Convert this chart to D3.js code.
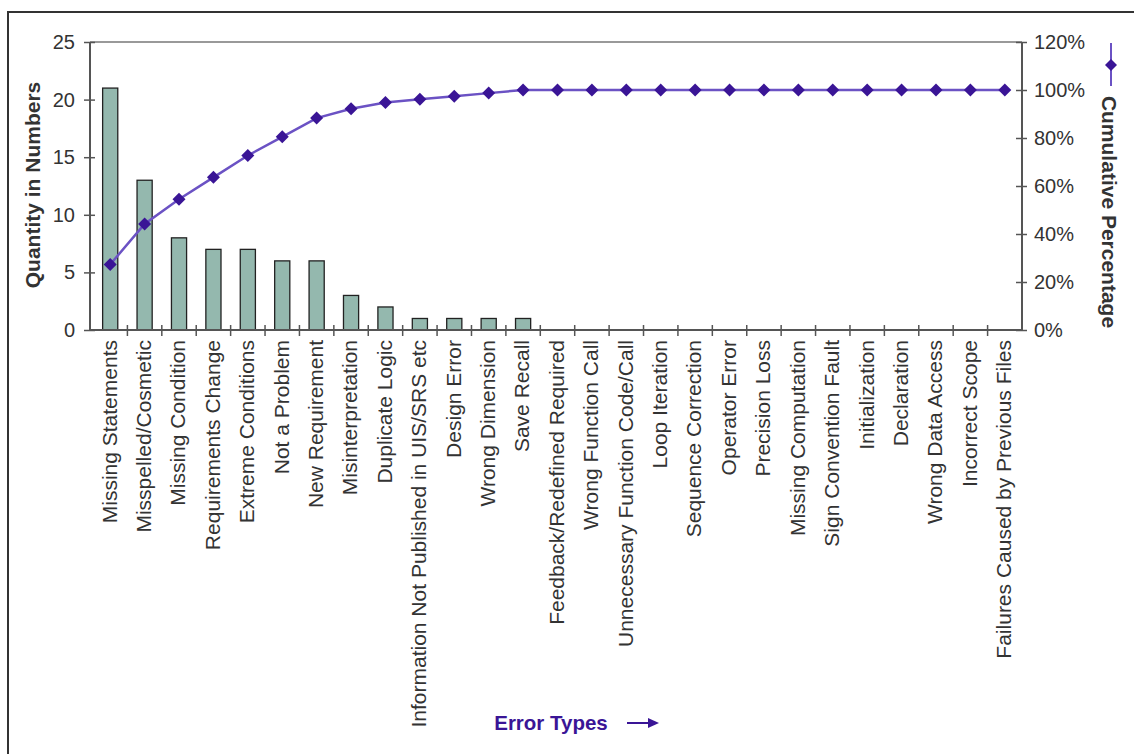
<!DOCTYPE html>
<html>
<head>
<meta charset="utf-8">
<script src="https://cdn.jsdelivr.net/npm/d3@7"></script>
<style>
  html, body { margin: 0; padding: 0; background: #fff; }
  svg { display: block; }
  text { font-family: "Liberation Sans", Arial, Helvetica, sans-serif; }
</style>
</head>
<body>
<svg id="chart" width="1134" height="754"></svg>
<script>
// Error categories in Pareto order
const categories = [
  "Missing Statements", "Misspelled/Cosmetic", "Missing Condition", "Requirements Change",
  "Extreme Conditions", "Not a Problem", "New Requirement", "Misinterpretation",
  "Duplicate Logic", "Information Not Published in UIS/SRS etc", "Design Error",
  "Wrong Dimension", "Save Recall", "Feedback/Redefined Required", "Wrong Function Call",
  "Unnecessary Function Code/Call", "Loop Iteration", "Sequence Correction", "Operator Error",
  "Precision Loss", "Missing Computation", "Sign Convention Fault", "Initialization",
  "Declaration", "Wrong Data Access", "Incorrect Scope", "Failures Caused by Previous Files"
];

// Number of errors found in each category
const quantities = [21, 13, 8, 7, 7, 6, 6, 3, 2, 1, 1, 1, 1, 0, 0, 0, 0, 0, 0, 0, 0, 0, 0, 0, 0, 0, 0];

// Cumulative share of all errors (%)
const cumulativePct = [27.3, 44.2, 54.5, 63.6, 72.7, 80.5, 88.3, 92.2, 94.8, 96.1, 97.4, 98.7, 100,
  100, 100, 100, 100, 100, 100, 100, 100, 100, 100, 100, 100, 100, 100];

const quantityTicks = [0, 5, 10, 15, 20, 25];
const percentTicks = [0, 20, 40, 60, 80, 100, 120];

const svg = d3.select("#chart");

const plot = { left: 90, right: 1022, top: 42, bottom: 330 };

const x = d3.scaleBand()
  .domain(categories)
  .range([93, plot.right])
  .paddingInner(0)
  .paddingOuter(0);

const yLeft = d3.scaleLinear().domain([0, 25]).range([plot.bottom, plot.top]);
const yRight = d3.scaleLinear().domain([0, 120]).range([plot.bottom, plot.top]);

const axisColor = "#555";
const textColor = "#333";
const purple = "#3a1596";
const lineColor = "#6b52c4";

// Outer frame (top and left edges)
svg.append("path")
  .attr("d", "M8,754 L8,12 L1134,12")
  .attr("fill", "none")
  .attr("stroke", "#333")
  .attr("stroke-width", 2);

// Top edge of the plotting area
svg.append("line")
  .attr("x1", plot.left).attr("x2", plot.right)
  .attr("y1", plot.top).attr("y2", plot.top)
  .attr("stroke", "#999").attr("stroke-width", 2);

// Bars
const barW = x.bandwidth() * 0.44;
svg.append("g")
  .selectAll("rect")
  .data(categories.map((c, i) => ({ c, v: quantities[i] })).filter(d => d.v > 0))
  .join("rect")
  .attr("x", d => x(d.c) + x.bandwidth() / 2 - barW / 2)
  .attr("y", d => yLeft(d.v))
  .attr("width", barW)
  .attr("height", d => yLeft(0) - yLeft(d.v))
  .attr("fill", "#94b8ae")
  .attr("stroke", "#222")
  .attr("stroke-width", 1.3);

// Left axis
const gLeft = svg.append("g").attr("transform", `translate(${plot.left},0)`)
  .call(d3.axisLeft(yLeft).tickValues(quantityTicks).tickSize(6).tickPadding(9));
gLeft.selectAll(".tick line").attr("x2", 5).attr("x1", -6);
gLeft.select(".domain").attr("d", `M0,${plot.top}V${plot.bottom}`);

// Right axis
const gRight = svg.append("g").attr("transform", `translate(${plot.right},0)`)
  .call(d3.axisRight(yRight).tickValues(percentTicks).tickFormat(d => d + "%").tickSize(6).tickPadding(6));
gRight.selectAll(".tick line").attr("x1", -6).attr("x2", 5);
gRight.select(".domain").attr("d", `M0,${plot.top}V${plot.bottom}`);

// Category axis with ticks between bands
const gBottom = svg.append("g").attr("transform", `translate(0,${plot.bottom})`);
gBottom.append("line")
  .attr("x1", plot.left).attr("x2", plot.right)
  .attr("stroke", axisColor).attr("stroke-width", 2);
gBottom.selectAll("line.sep")
  .data(categories.slice(1))
  .join("line")
  .attr("class", "sep")
  .attr("x1", d => x(d)).attr("x2", d => x(d))
  .attr("y1", -5).attr("y2", 6)
  .attr("stroke", axisColor).attr("stroke-width", 1.5);
gBottom.selectAll("text.cat")
  .data(categories)
  .join("text")
  .attr("class", "cat")
  .attr("transform", d => `translate(${x(d) + x.bandwidth() / 2 - 1},10) rotate(-90)`)
  .attr("text-anchor", "end")
  .attr("dy", "0.35em")
  .attr("font-size", 21)
  .attr("fill", textColor)
  .text(d => d);

[gLeft, gRight].forEach(g => {
  g.select(".domain").attr("stroke", axisColor).attr("stroke-width", 2);
  g.selectAll(".tick line").attr("stroke", axisColor).attr("stroke-width", 1.5);
  g.selectAll(".tick text")
    .attr("font-size", 20)
    .attr("fill", textColor)
    .attr("font-family", "'Liberation Sans', Arial, sans-serif");
});

// Cumulative percentage line
const line = d3.line()
  .x((d, i) => x(categories[i]) + x.bandwidth() / 2)
  .y(d => yRight(d));
svg.append("path")
  .datum(cumulativePct)
  .attr("d", line)
  .attr("fill", "none")
  .attr("stroke", lineColor)
  .attr("stroke-width", 2.5);

const diamond = r => `M0,${-r}L${r},0L0,${r}L${-r},0Z`;
svg.append("g")
  .selectAll("path")
  .data(cumulativePct)
  .join("path")
  .attr("transform", (d, i) => `translate(${x(categories[i]) + x.bandwidth() / 2},${yRight(d)})`)
  .attr("d", diamond(6.5))
  .attr("fill", purple);

// Axis titles
svg.append("text")
  .attr("transform", "translate(40,185) rotate(-90)")
  .attr("text-anchor", "middle")
  .attr("font-size", 21)
  .attr("font-weight", "bold")
  .attr("fill", textColor)
  .text("Quantity in Numbers");

svg.append("text")
  .attr("transform", "translate(1102,212) rotate(90)")
  .attr("text-anchor", "middle")
  .attr("font-size", 21)
  .attr("font-weight", "bold")
  .attr("fill", textColor)
  .text("Cumulative Percentage");

// Legend marker for the line series
svg.append("line")
  .attr("x1", 1111).attr("x2", 1111)
  .attr("y1", 43).attr("y2", 86)
  .attr("stroke", lineColor).attr("stroke-width", 2);
svg.append("path")
  .attr("transform", "translate(1111,65)")
  .attr("d", diamond(6))
  .attr("fill", purple);

// Horizontal axis caption with arrow
svg.append("text")
  .attr("x", 551).attr("y", 730)
  .attr("text-anchor", "middle")
  .attr("font-size", 20.5)
  .attr("font-weight", "bold")
  .attr("fill", purple)
  .text("Error Types");
svg.append("line")
  .attr("x1", 627).attr("x2", 650)
  .attr("y1", 723).attr("y2", 723)
  .attr("stroke", purple).attr("stroke-width", 2);
svg.append("path")
  .attr("d", "M648,718L659,723L648,728Z")
  .attr("fill", purple);
</script>
</body>
</html>
